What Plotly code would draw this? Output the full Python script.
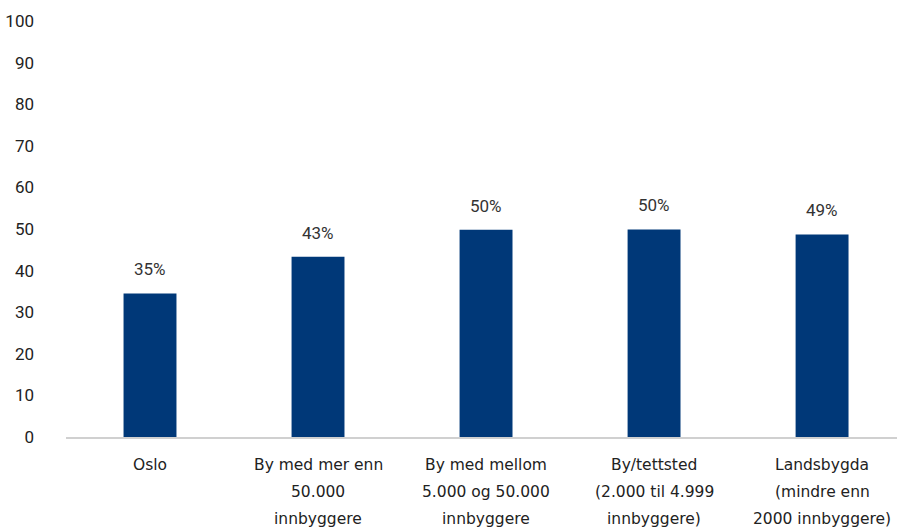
import plotly.graph_objects as go

categories = ["Oslo", "By med mer enn<br>50.000<br>innbyggere", "By med mellom<br>5.000 og 50.000<br>innbyggere",
              "By/tettsted<br>(2.000 til 4.999<br>innbyggere)", "Landsbygda<br>(mindre enn<br>2000 innbyggere)"]
values = [34.5, 43.3, 49.8, 49.9, 48.7]
value_labels = ["35%", "43%", "50%", "50%", "49%"]
y_ticks = [0, 10, 20, 30, 40, 50, 60, 70, 80, 90, 100]

FONT = "Roboto"
LABEL_FONT = "DejaVu Sans"
x_idx = list(range(len(categories)))

fig = go.Figure()
fig.add_trace(go.Bar(
    x=x_idx, y=values,
    marker=dict(color="#003878", line=dict(width=0)),
    width=0.315, cliponaxis=False, hoverinfo="skip",
))

for i, (v, lab) in enumerate(zip(values, value_labels)):
    fig.add_annotation(x=i, y=v, xref="x", yref="y", text=lab, showarrow=False,
                       yshift=24, yanchor="middle",
                       font=dict(family=FONT, size=17, color="#333333"))

for i, cat in enumerate(categories):
    for j, line in enumerate(cat.split("<br>")):
        fig.add_annotation(x=i, y=0, xref="x", yref="y", text=line, showarrow=False,
                           yshift=-28 - 27 * j, yanchor="middle",
                           font=dict(family=LABEL_FONT, size=15.5, color="#222222"))

fig.update_layout(
    width=897, height=527,
    margin=dict(l=66, r=0, t=21, b=90),
    plot_bgcolor="white", paper_bgcolor="white",
    showlegend=False,
    font=dict(family=FONT, size=17, color="#222222"),
    xaxis=dict(range=[-0.5, 4.446], showticklabels=False, showgrid=False, zeroline=False,
               showline=True, linecolor="#d0d0d0", linewidth=1.5, ticks=""),
    yaxis=dict(range=[0, 100], tickvals=y_ticks, showgrid=False, zeroline=False,
               showline=False, ticks="", ticklabelstandoff=31,
               tickfont=dict(family=FONT, size=17, color="#222222")),
)

fig.write_html("out.html", config={"displayModeBar": False},
               post_script="document.body.style.margin='0';document.body.style.overflow='hidden';")
